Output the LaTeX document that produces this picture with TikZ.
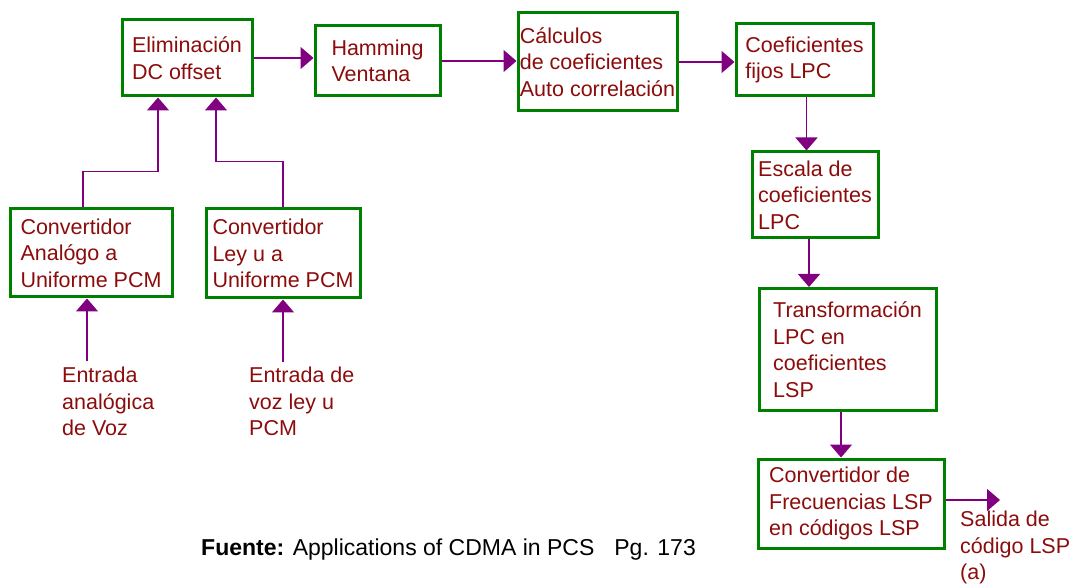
\documentclass[tikz,border=0pt]{standalone}
\usepackage{fontspec}
\setmainfont{Liberation Sans}
\usepackage{tikz}
\usetikzlibrary{positioning,arrows.meta}
\usepackage{xcolor}
\definecolor{BoxGreen}{RGB}{0,128,0}
\definecolor{TextRed}{RGB}{140,12,12}
\definecolor{LinePurple}{RGB}{128,0,128}

\begin{document}
\begin{tikzpicture}[
x=1pt,y=-1pt,
box/.style={
  rectangle,
  draw=BoxGreen,
  line width=3pt,
  fill=white,
  inner sep=0pt,
  align=left,
  text=TextRed,
  font=\fontsize{21.5}{26.5}\selectfont
},
label/.style={
  anchor=north west,
  inner sep=0pt,
  align=left,
  text=TextRed,
  font=\fontsize{21.5}{26.5}\selectfont
},
arrow/.style={-{Triangle[length=13pt,width=22pt]},line width=1.5pt,draw=LinePurple}
]
\useasboundingbox (0,0) rectangle (1071,585);
\node[box,minimum width=130pt,minimum height=76pt] (elim) at (187,58) {Eliminación\\DC offset};
\node[box,minimum width=125pt,minimum height=70pt] (hamming) at (377.5,61) {Hamming\\Ventana};
\node[box,minimum width=159pt,minimum height=98pt] (calculos) at (597.5,62) {Cálculos\\de coeficientes\\Auto correlación};
\node[box,minimum width=137pt,minimum height=72pt] (fijos) at (804.5,60) {Coeficientes\\fijos LPC};
\node[box,minimum width=126pt,minimum height=86pt] (escala) at (815,195) {Escala de\\coeficientes\\LPC};
\node[box,minimum width=177pt,minimum height=122pt] (transf) at (847.5,349.5) {Transformación\\LPC en\\coeficientes\\LSP};
\node[box,minimum width=186pt,minimum height=89pt] (convfrec) at (851,503.5) {Convertidor de\\Frecuencias LSP\\en códigos LSP};
\node[box,minimum width=162pt,minimum height=88pt] (convana) at (91,253) {Convertidor\\Analógo a\\Uniforme PCM};
\node[box,minimum width=154pt,minimum height=89pt] (convley) at (283,253.5) {Convertidor\\Ley u a\\Uniforme PCM};

\node[label] (entana) at (62,367) {Entrada\\analógica\\de Voz};
\node[label] (entley) at (249,367) {Entrada de\\voz ley u\\PCM};
\node[label] (salida) at (960,511) {Salida de\\código LSP\\(a)};
\coordinate (inana) at (87,361);
\coordinate (inley) at (283,362);
\coordinate (out) at (1000,500);

\node[anchor=base west,inner sep=0pt,font=\fontsize{23}{27}\selectfont] (fuente) at (201,555)
  {\textbf{Fuente:} Applications of CDMA in PCS\hspace{20pt}Pg. 173};

\draw[arrow] (elim.east) -- (elim.east -| hamming.west);
\draw[arrow] (hamming.east) -- (hamming.east -| calculos.west);
\draw[arrow] (calculos.east) -- (calculos.east -| fijos.west);
\draw[arrow] ([xshift=2pt]fijos.south) -- ([xshift=2pt]fijos.south |- escala.north);
\draw[arrow] ([xshift=-6pt]escala.south) -- ([xshift=-6pt]escala.south |- transf.north);
\draw[arrow] ([xshift=-6.5pt]transf.south) -- ([xshift=-6.5pt]transf.south |- convfrec.north);
\draw[arrow] (out -| convfrec.east) -- (out);
\draw[arrow] ([xshift=-8pt]convana.north) -- ++(0,-36) -| ([xshift=-29pt]elim.south);
\draw[arrow] (convley.north) -- ++(0,-46) -| ([xshift=29pt]elim.south);
\draw[arrow] (inana) -- (inana |- convana.south);
\draw[arrow] (inley) -- (inley |- convley.south);
\end{tikzpicture}
\end{document}
